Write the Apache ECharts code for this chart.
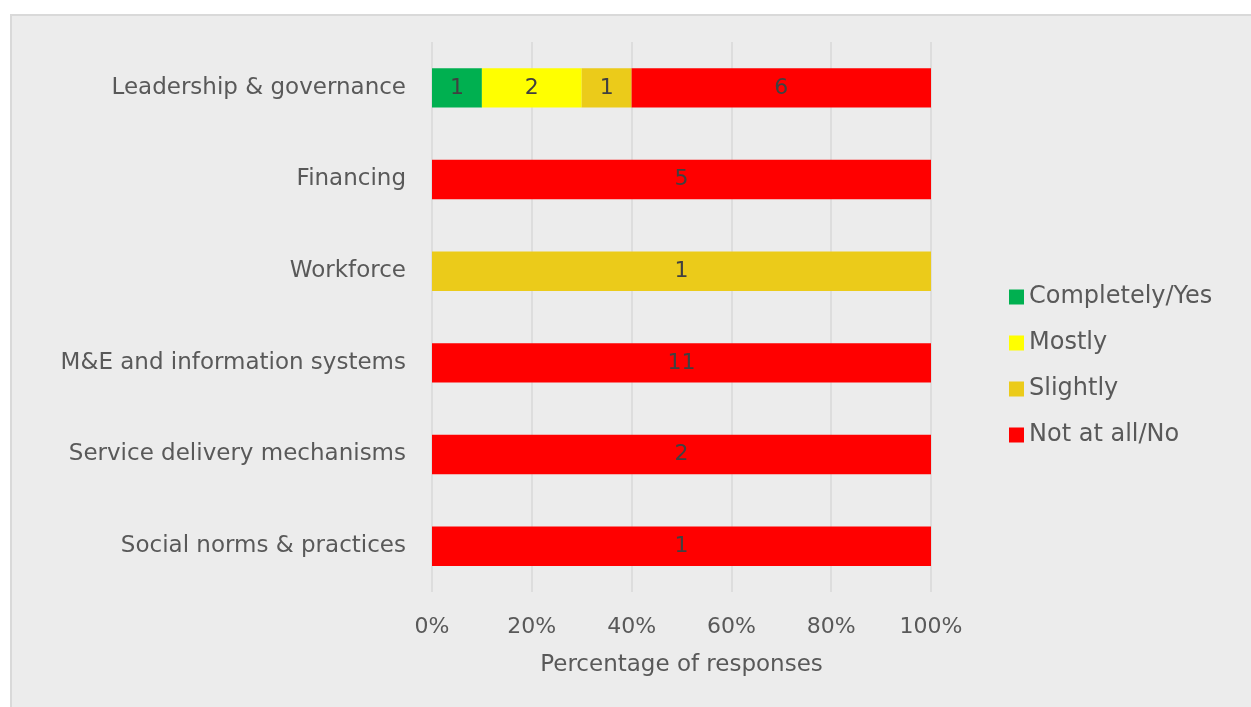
<!DOCTYPE html>
<html>
<head>
<meta charset="utf-8">
<script src="https://cdn.jsdelivr.net/npm/echarts@6/dist/echarts.min.js"></script>
<style>
  html, body { margin: 0; padding: 0; background: #ffffff; }
  .panel {
    position: absolute; left: 10px; top: 14px; width: 1241px; height: 693px;
    background: #ececec; border-left: 2px solid #d9d9d9; border-top: 2px solid #d9d9d9;
    box-sizing: border-box;
  }
  .chart { position: absolute; left: 0; top: 0; width: 1251px; height: 707px; }
</style>
</head>
<body>
<div class="panel"></div>
<div class="chart"></div>
<script>
const categories = [
  'Leadership & governance',
  'Financing',
  'Workforce',
  'M&E and information systems',
  'Service delivery mechanisms',
  'Social norms & practices'
]
const seriesNames = ['Completely/Yes', 'Mostly', 'Slightly', 'Not at all/No']
const completely = [1, 0, 0, 0, 0, 0]
const mostly = [2, 0, 0, 0, 0, 0]
const slightly = [1, 0, 1, 0, 0, 0]
const notAtAll = [6, 5, 0, 11, 2, 1]
const colors = ['#00b050', '#ffff00', '#ebcb1a', '#ff0000']

const counts = [completely, mostly, slightly, notAtAll]
const totals = categories.map((_, i) => counts.reduce((s, arr) => s + arr[i], 0))

const font = 'DejaVu Sans'
const textColor = '#595959'

const chart = echarts.init(document.querySelector('.chart'))

chart.setOption({
  backgroundColor: 'transparent',
  animation: false,
  textStyle: { fontFamily: font },
  grid: { left: 432, right: 320, top: 42, bottom: 115 },
  legend: {
    orient: 'vertical',
    left: 1004,
    top: 280,
    itemWidth: 15,
    itemHeight: 15,
    itemGap: 22,
    icon: 'rect',
    data: seriesNames,
    textStyle: { fontFamily: font, fontSize: 24, color: textColor }
  },
  xAxis: {
    type: 'value',
    min: 0,
    max: 100,
    interval: 20,
    axisLine: { show: false },
    axisTick: { show: false },
    splitLine: { lineStyle: { color: '#d9d9d9', width: 1.5 } },
    axisLabel: {
      formatter: '{value}%',
      margin: 24,
      fontFamily: font,
      fontSize: 22,
      color: textColor
    },
    name: 'Percentage of responses',
    nameLocation: 'middle',
    nameGap: 62,
    nameTextStyle: { fontFamily: font, fontSize: 23, color: textColor }
  },
  yAxis: {
    type: 'category',
    inverse: true,
    data: categories,
    axisLine: { show: false },
    axisTick: { show: false },
    axisLabel: {
      margin: 26,
      fontFamily: font,
      fontSize: 23,
      color: textColor
    }
  },
  series: counts.map((arr, k) => ({
    name: seriesNames[k],
    type: 'bar',
    stack: 'total',
    barWidth: '43%',
    itemStyle: { color: colors[k] },
    label: {
      show: true,
      position: 'inside',
      fontFamily: font,
      fontSize: 22,
      color: '#404040',
      formatter: p => (p.data.count ? String(p.data.count) : '')
    },
    data: arr.map((c, i) => ({ value: c / totals[i] * 100, count: c }))
  }))
})

window.addEventListener('resize', () => chart.resize())
</script>
</body>
</html>
